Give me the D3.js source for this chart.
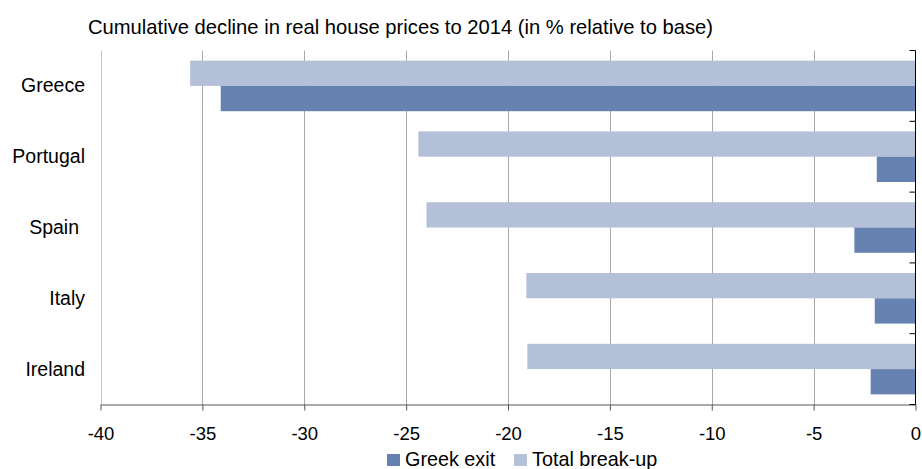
<!DOCTYPE html>
<html>
<head>
<meta charset="utf-8">
<script src="https://cdn.jsdelivr.net/npm/d3@7/dist/d3.min.js"></script>
<style>
  html, body { margin: 0; padding: 0; background: #fff; }
  svg { display: block; }
  text { font-family: "Liberation Sans", Arial, sans-serif; fill: #000; }
</style>
</head>
<body>
<svg id="chart" width="922" height="469"></svg>
<script>
// Countries, top to bottom
const countries = ["Greece", "Portugal", "Spain", "Italy", "Ireland"];
// Cumulative decline in real house prices to 2014, % relative to base
const greekExit = [-34.1, -1.9, -3.0, -2.0, -2.2];
const totalBreakUp = [-35.6, -24.4, -24.0, -19.1, -19.05];
const seriesNames = ["Greek exit", "Total break-up"];
const xTicks = [-40, -35, -30, -25, -20, -15, -10, -5, 0];

const colors = { "Greek exit": "#6582b0", "Total break-up": "#b3c0d8" };

const svg = d3.select("#chart");
const margin = { left: 100.5, right: 6.5, top: 50.5, bottom: 64.5 };
const W = 922, H = 469;

const x = d3.scaleLinear()
  .domain([-40, 0])
  .range([margin.left, W - margin.right]);

const y = d3.scaleBand()
  .domain(countries)
  .range([margin.top, H - margin.bottom]);

// Two bars per band: total break-up above, Greek exit below
const sub = d3.scaleBand()
  .domain(["Total break-up", "Greek exit"])
  .range([0, y.bandwidth()])
  .paddingOuter(0.4)
  .paddingInner(0);

// Title
svg.append("text")
  .attr("x", 88)
  .attr("y", 34)
  .style("font-size", "20.2px")
  .text("Cumulative decline in real house prices to 2014 (in % relative to base)");

// Vertical gridlines
svg.append("g")
  .selectAll("line")
  .data(xTicks.filter(d => d !== 0))
  .join("line")
  .attr("x1", d => Math.round(x(d)) + 0.5)
  .attr("x2", d => Math.round(x(d)) + 0.5)
  .attr("y1", margin.top)
  .attr("y2", H - margin.bottom)
  .attr("stroke", d => d === -40 ? "#c8c8c8" : "#a8a8a8")
  .attr("stroke-width", 1);

// Bars
const rows = countries.map((c, i) => ({
  country: c,
  values: [
    { series: "Total break-up", value: totalBreakUp[i] },
    { series: "Greek exit", value: greekExit[i] }
  ]
}));

svg.append("g")
  .selectAll("g")
  .data(rows)
  .join("g")
  .attr("transform", d => `translate(0,${y(d.country)})`)
  .selectAll("rect")
  .data(d => d.values)
  .join("rect")
  .attr("x", d => x(d.value))
  .attr("width", d => x(0) - x(d.value))
  .attr("y", d => sub(d.series))
  .attr("height", sub.bandwidth())
  .attr("fill", d => colors[d.series]);

// Bottom axis
const xAxis = d3.axisBottom(x)
  .tickValues(xTicks)
  .tickFormat(d => String(d))
  .tickSize(6)
  .tickPadding(16)
  .tickSizeOuter(0);

const gx = svg.append("g")
  .attr("transform", `translate(0,${H - margin.bottom})`)
  .call(xAxis);
gx.select(".domain").attr("stroke", "#555");
gx.selectAll(".tick line").attr("stroke", "#555");
gx.selectAll(".tick text")
  .style("font-size", "18.5px")
  .style("font-family", "'Liberation Sans', Arial, sans-serif")
  .attr("fill", "#000");

// Right-hand category axis at zero, ticks between bands
const boundaries = countries.map(c => y(c)).concat([y.range()[1]]);
const gy = svg.append("g");
gy.append("line")
  .attr("x1", x(0)).attr("x2", x(0))
  .attr("y1", margin.top).attr("y2", H - margin.bottom)
  .attr("stroke", "#000");
gy.selectAll("line.tk")
  .data(boundaries)
  .join("line")
  .attr("class", "tk")
  .attr("x1", x(0) - 6).attr("x2", x(0))
  .attr("y1", d => d).attr("y2", d => d)
  .attr("stroke", "#000");

// Category labels
svg.append("g")
  .selectAll("text")
  .data(countries)
  .join("text")
  .attr("x", d => d === "Spain" ? 79 : 85)
  .attr("y", d => y(d) + y.bandwidth() / 2 - 0.5)
  .attr("dy", "0.36em")
  .attr("text-anchor", "end")
  .style("font-size", "19.5px")
  .text(d => d);

// Legend
const legend = svg.append("g").attr("transform", "translate(387,454)");
const items = legend.selectAll("g")
  .data(seriesNames)
  .join("g")
  .attr("transform", (d, i) => `translate(${i === 0 ? 0 : 127},0)`);
items.append("rect")
  .attr("width", 13).attr("height", 12)
  .attr("fill", d => colors[d]);
items.append("text")
  .attr("x", 18)
  .attr("y", 11.5)
  .style("font-size", "19.8px")
  .text(d => d);
</script>
</body>
</html>
